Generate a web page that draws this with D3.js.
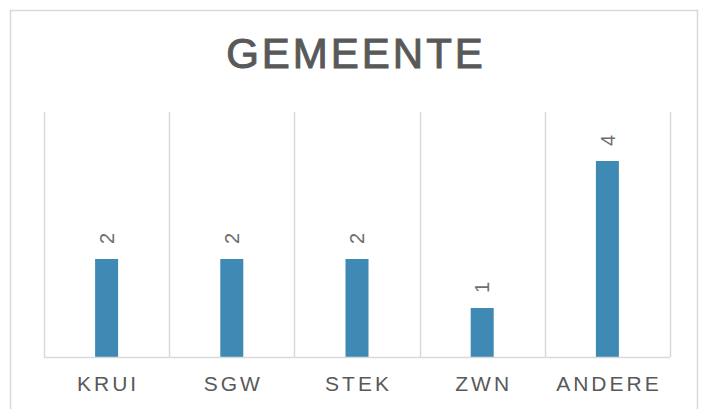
<!DOCTYPE html>
<html>
<head>
<meta charset="utf-8">
<script src="https://cdn.jsdelivr.net/npm/d3@7"></script>
<style>
  body { margin: 0; background: #fff; }
  text { font-family: "Liberation Sans", Arial, sans-serif; fill: #595959; }
</style>
</head>
<body>
<div id="chart"></div>
<script>
var categories = ["KRUI", "SGW", "STEK", "ZWN", "ANDERE"];
var values = [2, 2, 2, 1, 4];
var title = "GEMEENTE";

var width = 707, height = 409;
var margin = {left: 44, right: 37, top: 112, bottom: 52};

var svg = d3.select("#chart").append("svg")
  .attr("width", width)
  .attr("height", height);

// chart frame
svg.append("rect")
  .attr("x", 10.5).attr("y", 10.5)
  .attr("width", 687).attr("height", 420)
  .attr("fill", "#fff")
  .attr("stroke", "#d9d9d9")
  .attr("stroke-width", 1.5);

// title: regular face thickened a bit with a thin stroke
svg.append("text")
  .attr("x", 356).attr("y", 68)
  .attr("text-anchor", "middle")
  .style("font-size", "42px")
  .style("letter-spacing", "3px")
  .style("stroke", "#595959")
  .style("stroke-width", 1)
  .text(title);

var x = d3.scaleBand()
  .domain(categories)
  .range([margin.left, width - margin.right]);

var y = d3.scaleLinear()
  .domain([0, 5])
  .range([height - margin.bottom, margin.top]);

// vertical separators between categories
var edges = categories.map(function(c) { return x(c); });
edges.push(x.range()[1]);
svg.selectAll(".sep")
  .data(edges)
  .enter().append("line")
  .attr("class", "sep")
  .attr("x1", function(d) { return Math.round(d) + 0.5; })
  .attr("x2", function(d) { return Math.round(d) + 0.5; })
  .attr("y1", y(5))
  .attr("y2", y(0))
  .style("stroke", "#d9d9d9")
  .style("stroke-width", 1.5);

var barW = 23;
svg.selectAll(".bar")
  .data(values)
  .enter().append("rect")
  .attr("class", "bar")
  .attr("x", function(d, i) { return x(categories[i]) + x.bandwidth() / 2 - barW / 2; })
  .attr("y", function(d) { return y(d); })
  .attr("width", barW)
  .attr("height", function(d) { return y(0) - y(d); })
  .attr("fill", "#3f8ab4");

// baseline
svg.append("line")
  .attr("x1", x.range()[0]).attr("x2", x.range()[1])
  .attr("y1", y(0) + 0.5).attr("y2", y(0) + 0.5)
  .style("stroke", "#d9d9d9")
  .style("stroke-width", 1.5);

// value labels, rotated
svg.selectAll(".val")
  .data(values)
  .enter().append("text")
  .attr("class", "val")
  .attr("transform", function(d, i) {
    var cx = x(categories[i]) + x.bandwidth() / 2;
    return "translate(" + cx + "," + (y(d) - 15) + ") rotate(-90)";
  })
  .attr("dy", "0.36em")
  .style("font-size", "20px")
  .style("fill", "#6e6e6e")
  .text(function(d) { return d; });

// category labels
svg.selectAll(".cat")
  .data(categories)
  .enter().append("text")
  .attr("class", "cat")
  .attr("x", function(d) { return x(d) + x.bandwidth() / 2 + 1.5; })
  .attr("y", 391)
  .attr("text-anchor", "middle")
  .style("font-size", "21px")
  .style("letter-spacing", "3px")
  .text(function(d) { return d; });
</script>
</body>
</html>
